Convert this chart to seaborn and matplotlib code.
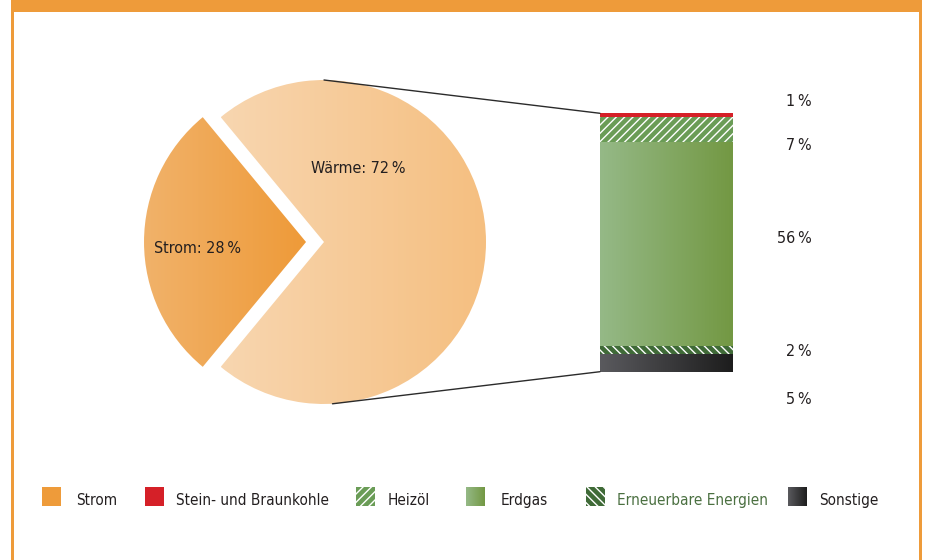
import numpy as np
import matplotlib
matplotlib.use("Agg")
import matplotlib.pyplot as plt
import seaborn as sns
from matplotlib.patches import Rectangle, ConnectionPatch
from matplotlib.colors import LinearSegmentedColormap

# Endenergie: Anteil Strom und Wärme (%)
pie_labels = ["Strom", "Wärme"]
pie_values = [28, 72]

# Wärme nach Energieträgern (%), von unten nach oben gestapelt
heat_sources = ["Sonstige", "Erneuerbare Energien", "Erdgas", "Heizöl", "Stein- und Braunkohle"]
heat_values = [5, 2, 56, 7, 1]

legend_labels = ["Strom", "Stein- und Braunkohle", "Heizöl", "Erdgas",
                 "Erneuerbare Energien", "Sonstige"]

sns.set_theme(style="white")
plt.rcParams["font.family"] = ["DejaVu Sans"]
plt.rcParams["font.stretch"] = "condensed"
plt.rcParams["hatch.color"] = "white"
plt.rcParams["hatch.linewidth"] = 1.0

TEXT = "#231f20"
ORANGE = "#ee9b3a"
RED = "#d52028"
HEIZOEL = "#6a9c56"
EE = "#3f6a37"
EE_TEXT = "#4b7041"

# fill styles per source: (gradient start, gradient end) or flat colour + hatch
styles = {
    "Sonstige": dict(grad=("#5a5a5e", "#1d1d1d")),
    "Erneuerbare Energien": dict(color=EE, hatch="\\\\\\\\"),
    "Erdgas": dict(grad=("#95b987", "#739843")),
    "Heizöl": dict(color=HEIZOEL, hatch="////"),
    "Stein- und Braunkohle": dict(color=RED),
}

W, H = 925, 560
fig = plt.figure(figsize=(W / 100, H / 100), dpi=100, facecolor="white")


def gradient_fill(ax, patch, c0, c1, extent, zorder):
    cmap = LinearSegmentedColormap.from_list("grad", [c0, c1])
    grad = np.linspace(0, 1, 256).reshape(1, -1)
    im = ax.imshow(grad, cmap=cmap, extent=extent, aspect="auto",
                   zorder=zorder, interpolation="bilinear")
    im.set_clip_path(patch)
    return im


# ---- frame and legend layer (pixel coordinates) ----
ov = fig.add_axes([0, 0, 1, 1])
ov.set_xlim(0, W)
ov.set_ylim(H, 0)
ov.axis("off")
ov.add_patch(Rectangle((11, 0), 911, 11.7, color=ORANGE, lw=0))
ov.add_patch(Rectangle((11, 0), 3, H, color=ORANGE, lw=0))
ov.add_patch(Rectangle((919, 0), 3, H, color=ORANGE, lw=0))

key_x = [42, 145, 356, 466, 586, 788]
text_x = [76, 176, 388, 501, 617, 819]
key_y, key_s = 487, 19
key_styles = [dict(color=ORANGE)] + [styles[n] for n in legend_labels[1:]]
for kx, tx, lab, st in zip(key_x, text_x, legend_labels, key_styles):
    if "grad" in st:
        r = Rectangle((kx, key_y), key_s, key_s, facecolor="none", lw=0)
        ov.add_patch(r)
        gradient_fill(ov, r, st["grad"][0], st["grad"][1],
                      (kx, kx + key_s, key_y + key_s, key_y), 2)
    else:
        ov.add_patch(Rectangle((kx, key_y), key_s, key_s, facecolor=st["color"],
                               hatch=st.get("hatch"), edgecolor="white", lw=0))
    ov.text(tx, 505, lab, fontsize=11, va="baseline", ha="left",
            color=EE_TEXT if lab == "Erneuerbare Energien" else TEXT)

# ---- pie: Strom / Wärme ----
R_PX = 162.0
cx, cy = 324.0, 242.0
lim = 1.2
ax_pie = fig.add_axes([(cx - lim * R_PX) / W, (H - cy - lim * R_PX) / H,
                       2 * lim * R_PX / W, 2 * lim * R_PX / H])
start = 180 - pie_values[0] / sum(pie_values) * 180
wedges, _ = ax_pie.pie(pie_values, explode=[0.111, 0], startangle=start,
                       counterclock=True, radius=1,
                       wedgeprops=dict(linewidth=0, facecolor="none"))
pie_grads = [("#f1b26a", "#ee9a38"), ("#f8d6b0", "#f5bf80")]
for w, (c0, c1) in zip(wedges, pie_grads):
    bb = w.get_path().get_extents()
    gradient_fill(ax_pie, w, c0, c1, (bb.x0, bb.x1, bb.y0, bb.y1), 1)

pie_text_pos = [(-0.778, -0.066), (0.21, 0.428)]
for (tx, ty), lab, v in zip(pie_text_pos, pie_labels, pie_values):
    ax_pie.text(tx, ty, f"{lab}: {v}\u2009%", fontsize=11.5, ha="center",
                va="baseline", color=TEXT, zorder=5)
ax_pie.set_xlim(-lim, lim)
ax_pie.set_ylim(-lim, lim)
ax_pie.set_aspect("equal")
ax_pie.axis("off")

# ---- stacked bar: Wärme nach Energieträgern ----
total = sum(heat_values)
bar_top_px, bar_bot_px = 113.3, 371.7
ax_bar = fig.add_axes([600 / W, (H - bar_bot_px) / H, 133 / W,
                       (bar_bot_px - bar_top_px) / H])
tops = np.cumsum(heat_values)
# tallest first so each lower segment covers the one beneath it
order = list(range(len(heat_values)))[::-1]
for z, i in enumerate(order, start=1):
    name = heat_sources[i]
    st = styles[name]
    sns.barplot(x=["Wärme"], y=[tops[i]], color=st.get("color", "#888888"),
                width=1.0, saturation=1, ax=ax_bar, zorder=z)
    p = ax_bar.patches[-1]
    p.set_linewidth(0)
    if "hatch" in st:
        p.set_hatch(st["hatch"])
        p.set_edgecolor("white")
    if "grad" in st:
        bb = p.get_bbox()
        gradient_fill(ax_bar, p, st["grad"][0], st["grad"][1],
                      (bb.x0, bb.x1, bb.y0, bb.y1), z + 0.5)

# percentage labels to the right of the bar
pct_label_y = [-8.9, 4.3, 35.3, 60.9, 73.0]
for v, ly in zip(heat_values, pct_label_y):
    ax_bar.text(1.094, ly, f"{v}\u2009%", fontsize=11.5, ha="right", va="baseline",
                color=TEXT, clip_on=False)

ax_bar.set_xlim(-0.5, 0.5)
ax_bar.set_ylim(0, total)
ax_bar.axis("off")

# connector lines from the Wärme slice to the bar
a_top, a_bot = np.deg2rad(90), np.deg2rad(-87)
for (xa, ya), (xb, yb) in [((np.cos(a_top), np.sin(a_top)), (-0.5, total)),
                           ((np.cos(a_bot), np.sin(a_bot)), (-0.5, 0))]:
    con = ConnectionPatch(xyA=(xa, ya), coordsA=ax_pie.transData,
                          xyB=(xb, yb), coordsB=ax_bar.transData,
                          color="#2b2b2b", lw=1.0)
    fig.add_artist(con)

fig.savefig("out.png", dpi=100, facecolor="white")
